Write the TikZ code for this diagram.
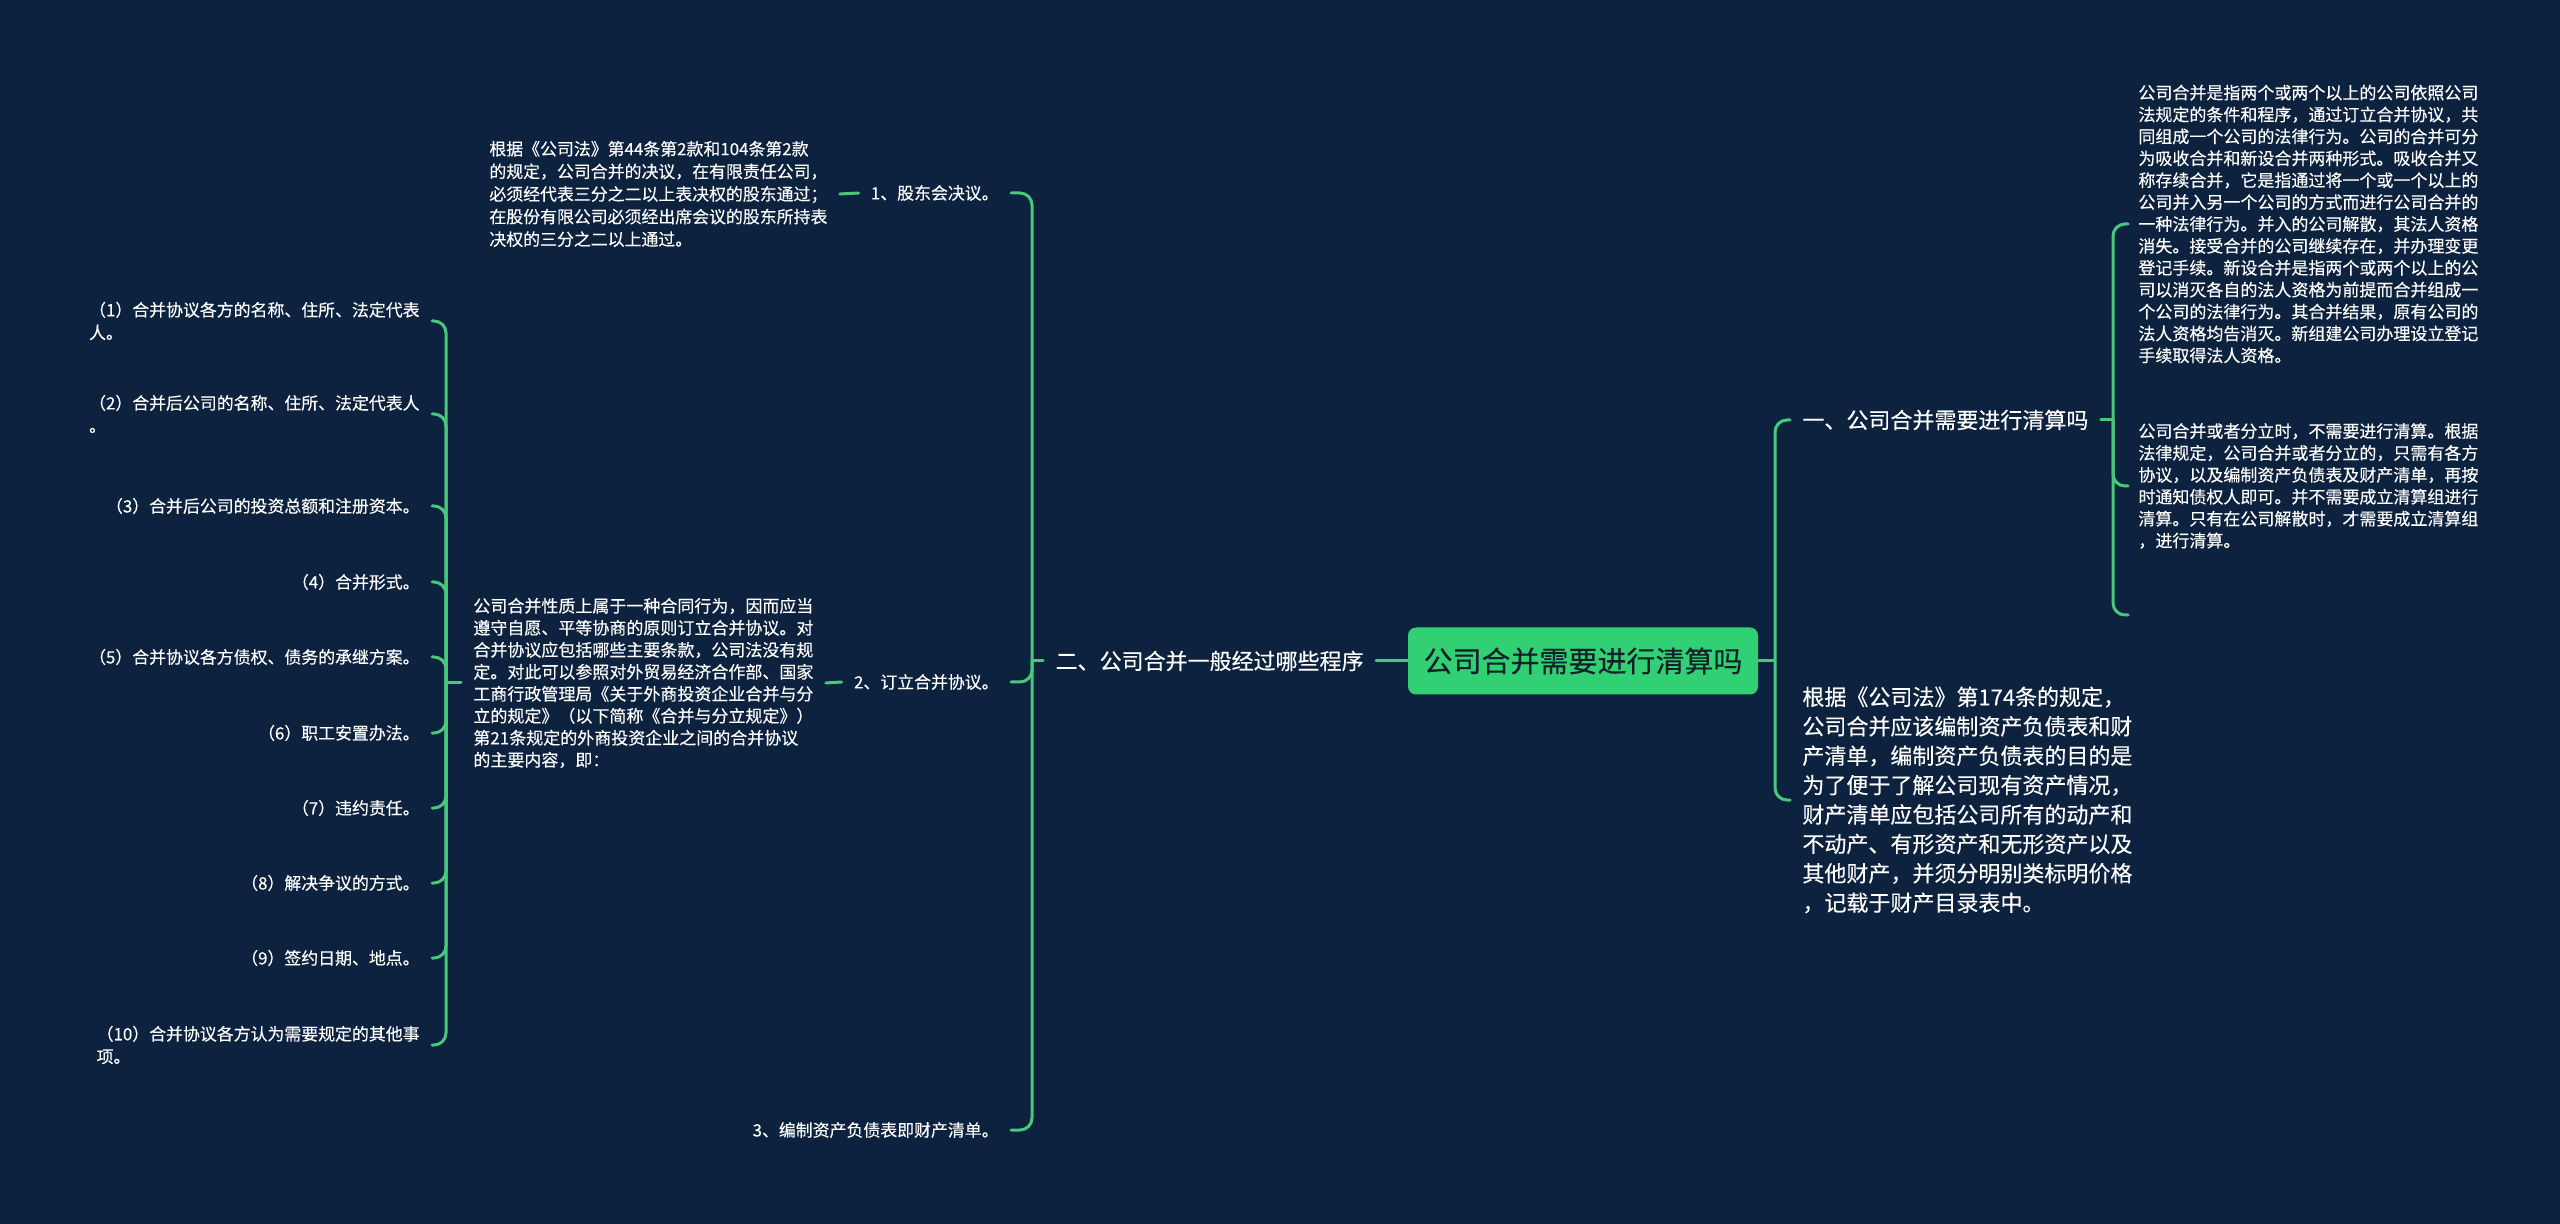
\documentclass[tikz,border=0pt]{standalone}
\usepackage{fontspec}
\setmainfont{Noto Sans CJK SC}
\newfontfamily\cjk[FakeBold=0.25]{Noto Sans CJK SC}
\definecolor{bgc}{RGB}{13,34,62}
\definecolor{linec}{RGB}{72,200,122}
\definecolor{rootc}{RGB}{50,208,117}
\definecolor{roottext}{RGB}{16,34,40}
\begin{document}
\begin{tikzpicture}[x=0.5pt,y=-0.5pt,
  conn/.style={draw=linec,line width=1.5pt,line cap=round},
  hook/.style={conn,rounded corners=6pt},
  rootbox/.style={fill=rootc,rounded corners=4pt,minimum width=175pt,minimum height=33.5pt,text=roottext,font=\cjk\fontsize{14.5pt}{17pt}\selectfont,inner sep=0pt},
  lvlone/.style={text=white,font=\cjk\fontsize{11pt}{14.7pt}\selectfont,inner xsep=6pt,inner ysep=2pt,align=left},
  small/.style={text=white,font=\cjk\fontsize{8.45pt}{11.3pt}\selectfont,inner xsep=6pt,inner ysep=2pt,align=left},
  para/.style={text=white,font=\cjk\fontsize{8.5pt}{11pt}\selectfont,inner xsep=6pt,inner ysep=2pt,align=left},
  paraq/.style={text=white,font=\cjk\fontsize{8.5pt}{10.95pt}\selectfont,inner xsep=5pt,inner ysep=2pt,align=left}
]
\fill[bgc] (0,0) rectangle (2560,1224);
\useasboundingbox (0,0) rectangle (2560,1224);

% root
\node[rootbox] (root) at (1583,661) {公司合并需要进行清算吗};

% left main branch
\node[lvlone,anchor=east] (b2) at (1376,661) {二、公司合并一般经过哪些程序};
\coordinate (j2) at (1032,661);
\draw[conn] (root.west) -- (b2.east);
\draw[conn] (b2.west) -- (j2);

\node[small,anchor=east] (s1) at (1011,193) {1、股东会决议。};
\node[small,anchor=east] (s2) at (1011,682) {2、订立合并协议。};
\node[small,anchor=east] (s3) at (1011,1130) {3、编制资产负债表即财产清单。};
\draw[hook] (j2) |- (s1.east);
\draw[hook] (j2) |- (s2.east);
\draw[hook] (j2) |- (s3.east);

\node[small,anchor=west] (pA) at (477,194) {根据《公司法》第44条第2款和104条第2款\\的规定，公司合并的决议，在有限责任公司，\\必须经代表三分之二以上表决权的股东通过；\\在股份有限公司必须经出席会议的股东所持表\\决权的三分之二以上通过。};
\draw[conn] (s1.west) -- (pA.east);

\node[para,anchor=west] (pB) at (461,683) {公司合并性质上属于一种合同行为，因而应当\\遵守自愿、平等协商的原则订立合并协议。对\\合并协议应包括哪些主要条款，公司法没有规\\定。对此可以参照对外贸易经济合作部、国家\\工商行政管理局《关于外商投资企业合并与分\\立的规定》（以下简称《合并与分立规定》）\\第21条规定的外商投资企业之间的合并协议\\的主要内容，即：};
\draw[conn] (s2.west) -- (pB.east);
\coordinate (jB) at (446,683);
\draw[conn] (pB.west) -- (jB);

\node[small,anchor=east] (i1) at (432,321) {（1）合并协议各方的名称、住所、法定代表\\人。};
\node[small,anchor=east] (i2) at (432,414) {（2）合并后公司的名称、住所、法定代表人\\。};
\node[small,anchor=east] (i3) at (432,506) {（3）合并后公司的投资总额和注册资本。};
\node[small,anchor=east] (i4) at (432,582) {（4）合并形式。};
\node[small,anchor=east] (i5) at (432,657) {（5）合并协议各方债权、债务的承继方案。};
\node[small,anchor=east] (i6) at (432,733) {（6）职工安置办法。};
\node[small,anchor=east] (i7) at (432,808) {（7）违约责任。};
\node[small,anchor=east] (i8) at (432,883) {（8）解决争议的方式。};
\node[small,anchor=east] (i9) at (432,958) {（9）签约日期、地点。};
\node[small,anchor=east] (i10) at (432,1045) {（10）合并协议各方认为需要规定的其他事\\项。};
\foreach \n in {i1,i2,i3,i4,i5,i6,i7,i8,i9,i10}{\draw[hook] (jB) |- (\n.east);}

% right main branch
\coordinate (jR) at (1775,661);
\draw[conn] (root.east) -- (jR);
\node[lvlone,anchor=west] (r1) at (1790,420) {一、公司合并需要进行清算吗};
\node[lvlone,anchor=west] (r3) at (1790,800) {根据《公司法》第174条的规定，\\公司合并应该编制资产负债表和财\\产清单，编制资产负债表的目的是\\为了便于了解公司现有资产情况，\\财产清单应包括公司所有的动产和\\不动产、有形资产和无形资产以及\\其他财产，并须分明别类标明价格\\，记载于财产目录表中。};
\draw[hook] (jR) |- (r1.west);
\draw[hook] (jR) |- (r3.west);

\coordinate (j1) at (2113,420);
\draw[conn] (r1.east) -- (j1);
\node[paraq,anchor=west] (q1) at (2128,224) {公司合并是指两个或两个以上的公司依照公司\\法规定的条件和程序，通过订立合并协议，共\\同组成一个公司的法律行为。公司的合并可分\\为吸收合并和新设合并两种形式。吸收合并又\\称存续合并，它是指通过将一个或一个以上的\\公司并入另一个公司的方式而进行公司合并的\\一种法律行为。并入的公司解散，其法人资格\\消失。接受合并的公司继续存在，并办理变更\\登记手续。新设合并是指两个或两个以上的公\\司以消灭各自的法人资格为前提而合并组成一\\个公司的法律行为。其合并结果，原有公司的\\法人资格均告消灭。新组建公司办理设立登记\\手续取得法人资格。};
\node[paraq,anchor=west] (q2) at (2128,486) {公司合并或者分立时，不需要进行清算。根据\\法律规定，公司合并或者分立的，只需有各方\\协议，以及编制资产负债表及财产清单，再按\\时通知债权人即可。并不需要成立清算组进行\\清算。只有在公司解散时，才需要成立清算组\\，进行清算。};
\coordinate (q3) at (2128,615);
\draw[hook] (j1) |- (q1.west);
\draw[hook] (j1) |- (q2.west);
\draw[hook] (j1) |- (q3);
\end{tikzpicture}
\end{document}
